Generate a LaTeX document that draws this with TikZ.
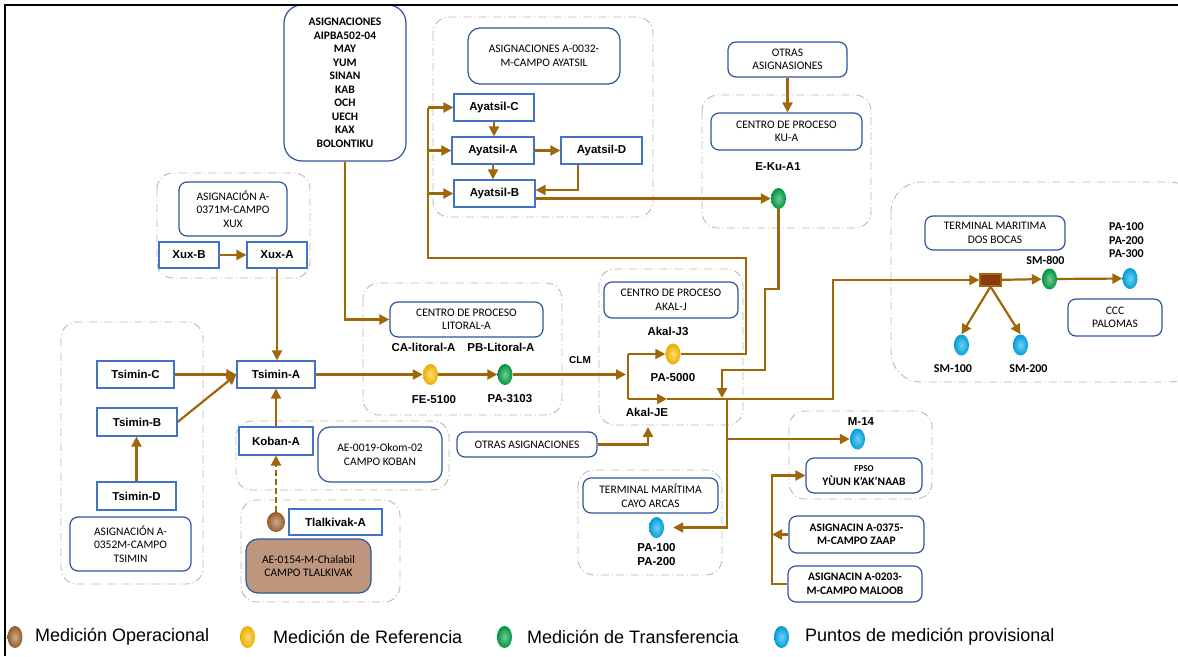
\documentclass[tikz,border=0pt]{standalone}
\usepackage{fontspec}
\setmainfont{Carlito}
\newfontfamily\arialfont{Liberation Sans}
\usetikzlibrary{arrows.meta,shapes.geometric}
\definecolor{flowbrown}{RGB}{158,104,10}
\definecolor{boxblue}{RGB}{47,85,151}
\definecolor{rectblue}{RGB}{68,114,196}
\definecolor{grpgray}{RGB}{185,185,185}
\definecolor{chalabil}{RGB}{190,150,125}
\definecolor{manifold}{RGB}{140,55,15}
\definecolor{opbrown}{RGB}{160,100,45}
\definecolor{refyellow}{RGB}{255,190,0}
\definecolor{trgreen}{RGB}{0,160,70}
\definecolor{provblue}{RGB}{0,170,235}

\begin{document}
\begin{tikzpicture}[x=1pt,y=-1pt,
    >={Triangle[length=10pt,width=10pt]},
    grp/.style={draw=grpgray, line width=0.9pt, dash pattern=on 8pt off 3pt on 1pt off 3pt, rounded corners=16pt},
    rbox/.style={draw=boxblue, line width=1.2pt, rounded corners=8pt, fill=white, align=center, inner sep=1pt, font=\fontsize{11.5}{13.5}\selectfont},
    rboxb/.style={rbox, font=\bfseries\fontsize{11.5}{13.5}\selectfont},
    sbox/.style={draw=rectblue, line width=1.2pt, fill=white, inner sep=1pt, font=\arialfont\bfseries\fontsize{11.5}{13}\selectfont},
    lbl/.style={inner sep=0pt, align=center, font=\arialfont\bfseries\fontsize{11.5}{14}\selectfont},
    lblc/.style={inner sep=0pt, align=center, font=\bfseries\fontsize{12}{13.5}\selectfont},
    ball/.style={ellipse, minimum width=15pt, minimum height=21pt, inner sep=0pt},
    gloss/.style={inner color=#1!55!white, outer color=#1!92!black},
    flow/.style={draw=flowbrown, line width=2.2pt},
    leg/.style={anchor=west, inner sep=0pt, font=\arialfont\fontsize{18}{20}\selectfont}]
    \useasboundingbox (0,0) rectangle (1178,656);

    % groups
    \draw[grp] (157,173) rectangle (310,278);
    \draw[grp] (61,322) rectangle (203,584);
    \draw[grp] (236,421) rectangle (449,490);
    \draw[grp] (241,500) rectangle (400,602);
    \draw[grp] (363,283) rectangle (562,415);
    \draw[grp] (599,269) rectangle (743,425);
    \draw[grp] (433,17) rectangle (653,217);
    \draw[grp] (702,95) rectangle (871,228);
    \draw[grp] (578,470) rectangle (722,575);
    \draw[grp] (789,411) rectangle (932,499);
    \draw[grp, rounded corners=30pt] (891,182) rectangle (1200,382);

    % boxes
    \node[rboxb, minimum width=122pt, minimum height=156pt, rounded corners=18pt] (aipba) at (345,83) {ASIGNACIONES\\AIPBA502-04\\MAY\\YUM\\SINAN\\KAB\\OCH\\UECH\\KAX\\BOLONTIKU};
    \node[rbox, minimum width=108pt, minimum height=54pt] (xuxasg) at (233,209) {ASIGNACIÓN A-\\0371M-CAMPO\\XUX};
    \node[sbox, minimum width=60pt, minimum height=26pt] (xuxb) at (189,255) {Xux-B};
    \node[sbox, minimum width=60pt, minimum height=26pt] (xuxa) at (277,255) {Xux-A};
    \node[sbox, minimum width=78pt, minimum height=27pt] (tsa) at (276,374.5) {Tsimin-A};
    \node[sbox, minimum width=77pt, minimum height=27pt] (tsc) at (135.5,374.5) {Tsimin-C};
    \node[sbox, minimum width=80pt, minimum height=28pt] (tsb) at (137,422) {Tsimin-B};
    \node[sbox, minimum width=79pt, minimum height=28pt] (tsd) at (136.5,496) {Tsimin-D};
    \node[rbox, minimum width=121pt, minimum height=54pt] (tsasg) at (130.5,544) {ASIGNACIÓN A-\\0352M-CAMPO\\TSIMIN};
    \node[sbox, minimum width=74pt, minimum height=28pt] (kob) at (276,441) {Koban-A};
    \node[rbox, minimum width=124pt, minimum height=55pt, rounded corners=12pt] (kobasg) at (380,454.5) {AE-0019-Okom-02\\CAMPO KOBAN};
    \node[sbox, minimum width=93pt, minimum height=26pt] (tlk) at (335.5,522) {Tlalkivak-A};
    \node[rbox, fill=chalabil, minimum width=125pt, minimum height=54pt, rounded corners=12pt] (tlkasg) at (308.5,566) {AE-0154-M-Chalabil\\CAMPO TLALKIVAK};
    \node[rbox, minimum width=153pt, minimum height=35pt] (lit) at (466.5,319.5) {CENTRO DE PROCESO\\LITORAL-A};
    \node[rbox, minimum width=152pt, minimum height=56pt, rounded corners=12pt] (ayasg) at (544,56) {ASIGNACIONES A-0032-\\M-CAMPO AYATSIL};
    \node[sbox, minimum width=80pt, minimum height=27pt] (ayc) at (494,107.5) {Ayatsil-C};
    \node[sbox, minimum width=82pt, minimum height=27pt] (aya) at (493,150.5) {Ayatsil-A};
    \node[sbox, minimum width=81pt, minimum height=27pt] (ayd) at (601.5,150.5) {Ayatsil-D};
    \node[sbox, minimum width=81pt, minimum height=27pt] (ayb) at (494.5,193.5) {Ayatsil-B};
    \node[rbox, minimum width=119pt, minimum height=35pt] (otras1) at (787.5,59.5) {OTRAS\\ASIGNASIONES};
    \node[rbox, minimum width=151pt, minimum height=37pt] (kua) at (786.5,131.5) {CENTRO DE PROCESO\\KU-A};
    \node[rbox, minimum width=134pt, minimum height=36pt] (akal) at (671,300) {CENTRO DE PROCESO\\AKAL-J};
    \node[rbox, minimum width=140pt, minimum height=25pt] (otras2) at (527,444.5) {OTRAS ASIGNACIONES};
    \node[rbox, minimum width=135pt, minimum height=35pt] (cayo) at (650.5,495.5) {TERMINAL MARÍTIMA\\CAYO ARCAS};
    \node[rboxb, minimum width=116pt, minimum height=35pt] (fpso) at (864,475.5) {{\fontsize{9}{11}\selectfont FPSO}\\YÙUN K’AK’NAAB};
    \node[rboxb, minimum width=135pt, minimum height=37pt] (zaap) at (856.5,534.5) {ASIGNACIN A-0375-\\M-CAMPO ZAAP};
    \node[rboxb, minimum width=134pt, minimum height=36pt] (maloob) at (855,584) {ASIGNACIN A-0203-\\M-CAMPO MALOOB};
    \node[rbox, minimum width=140pt, minimum height=34pt] (dosb) at (995,233) {TERMINAL MARITIMA\\DOS BOCAS};
    \node[rbox, minimum width=94pt, minimum height=37pt] (ccc) at (1115,317.5) {CCC\\PALOMAS};
    \node[draw=flowbrown, fill=manifold, line width=1.2pt, minimum width=21pt, minimum height=12pt, inner sep=0pt] (mani) at (990.5,280) {};

    % measuring points
    \node[ball, gloss=opbrown, minimum width=18pt, minimum height=20pt] (tlkball) at (276,522) {};
    \node[ball, gloss=refyellow] (fe) at (430.5,374.5) {};
    \node[ball, gloss=trgreen] (pa3103) at (505,374.5) {};
    \node[ball, gloss=refyellow] (akj3) at (673,354) {};
    \node[ball, gloss=trgreen] (eku) at (778.5,198.5) {};
    \node[ball, gloss=provblue] (cayoball) at (656.5,527.5) {};
    \node[ball, gloss=provblue] (m14ball) at (857.5,439) {};
    \node[ball, gloss=trgreen] (sm800) at (1049.5,279) {};
    \node[ball, gloss=provblue] (paball) at (1130,278.5) {};
    \node[ball, gloss=provblue] (sm100) at (961.5,345) {};
    \node[ball, gloss=provblue] (sm200) at (1020.5,345) {};

    % labels
    \node[lbl] (calit) at (423.5,347) {CA-litoral-A};
    \node[lbl] (pblit) at (501,347) {PB-Litoral-A};
    \node[lbl] (fetxt) at (434,400) {FE-5100};
    \node[lbl] (patxt) at (510,399) {PA-3103};
    \node[lbl, font=\arialfont\bfseries\fontsize{10}{12}\selectfont] (clm) at (580,360) {CLM};
    \node[lbl] (akj3txt) at (668,331) {Akal-J3};
    \node[lbl] (pa5000) at (673,378) {PA-5000};
    \node[lbl] (akjetxt) at (647,412) {Akal-JE};
    \node[lbl] (ekutxt) at (778,167) {E-Ku-A1};
    \node[lbl] (cayotxt) at (656.5,555) {PA-100\\PA-200};
    \node[lbl] (m14txt) at (861,422) {M-14};
    \node[lblc] (sm800txt) at (1045.5,260) {SM-800};
    \node[lblc] (patxt2) at (1126.5,240.5) {PA-100\\PA-200\\PA-300};
    \node[lblc] (sm100txt) at (953,369) {SM-100};
    \node[lblc] (sm200txt) at (1028.5,369) {SM-200};

    % connectors
    \coordinate (ja) at (628,354);
    \coordinate (jb) at (628,399);
    \coordinate (jm) at (667,399);
    \coordinate (jc) at (722,398);
    \coordinate (jd) at (727,399);
    \coordinate (akalin) at (648,427);
    \coordinate (ret) at (428,258);

    \draw[flow,->] (xuxb) -- (xuxa);
    \draw[flow,->] (xuxa.south) -- (xuxa.south |- tsa.north);
    \draw[flow,->] (aipba.south) |- (lit.west);
    \draw[flow,->] (tsc) -- (tsa);
    \draw[flow,->] (tsb.east) -- (tsa.west);
    \draw[flow,->] (tsd.north) -- (tsd.north |- tsb.south);
    \draw[flow,->] (kob.north) -- (kob.north |- tsa.south);
    \draw[flow,->, dash pattern=on 6pt off 3pt] (tlkball.north) -- (kob.south);
    \draw[flow,->] (tsa) -- (fe);
    \draw[flow,->] (fe) -- (pa3103);
    \draw[flow,->] (pa3103.east) -- (626,374.5);
    \draw[flow] (ja) -- (jb);
    \draw[flow,->] (ja) -- (akj3.west);
    \draw[flow,->] (jb) -- (jm);
    \draw[flow,->] (jm) -- (833,399) |- (mani.west);
    \draw[flow] (akj3.east) -- (746,354) -- (746,258) -- (ret) -- (ret |- ayc.west);
    \draw[flow,->] (ret |- ayc.west) -- (ayc.west);
    \draw[flow,->] (ret |- aya.west) -- (aya.west);
    \draw[flow,->] (ret |- ayb.west) -- (ayb.west);
    \draw[flow,->] (ayc.south) -- (ayc.south |- aya.north);
    \draw[flow,->] (aya.south) -- (aya.south |- ayb.north);
    \draw[flow,->] (aya) -- (ayd);
    \draw[flow,->] ([xshift=-23.5pt]ayd.south) |- ([yshift=3.5pt]ayb.east);
    \draw[flow,->] (ayb.east |- eku.west) -- (eku.west);
    \draw[flow,->] (otras1.south) -- (otras1.south |- kua.north);
    \draw[flow,->] (eku.south) -- (778.5,289) -- (765,289) -- (765,370) -- (722,370) -- (jc);
    \draw[flow,->, shorten >=9pt] (jd) |- (cayoball.east);
    \draw[flow,->] (jd |- m14ball.west) -- (m14ball.west);
    \draw[flow,->] (otras2.east) -| (akalin);
    \draw[flow,->] (maloob.west) -- (772,584) -- (772,475.5) -- (fpso.west);
    \draw[flow,->] (zaap.west) -- (772,534.5);
    \draw[flow,->] (mani) -- (sm800);
    \draw[flow,->] (sm800) -- (paball);
    \draw[flow,->] (mani.south) -- (sm100.north);
    \draw[flow,->] (mani.south) -- (sm200.north);

    % legend
    \node[ball, gloss=opbrown, minimum height=22pt] (legop) at (15,637) {};
    \node[leg] (legoptxt) at (35,637) {Medición Operacional};
    \node[ball, gloss=refyellow, minimum height=22pt] (legref) at (247.5,637) {};
    \node[leg] (legreftxt) at (273,637) {Medición de Referencia};
    \node[ball, gloss=trgreen, minimum height=22pt] (legtr) at (504.5,637) {};
    \node[leg] (legtrtxt) at (527,637) {Medición de Transferencia};
    \node[ball, gloss=provblue, minimum height=22pt] (legprov) at (781.5,637) {};
    \node[leg] (legprovtxt) at (805,637) {Puntos de medición provisional};

    \draw[line width=2.2pt] (5,656) -- (5,5) -- (1178,5);
\end{tikzpicture}
\end{document}
